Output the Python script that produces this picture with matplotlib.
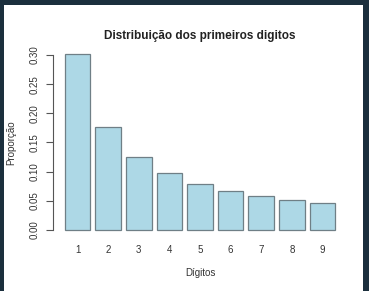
import matplotlib
matplotlib.use('Agg')
import matplotlib.pyplot as plt
from matplotlib.patches import Rectangle
import numpy as np

digitos = ['1', '2', '3', '4', '5', '6', '7', '8', '9']
proporcao = [0.301, 0.176, 0.125, 0.097, 0.079, 0.067, 0.058, 0.051, 0.046]
yticks = [0.00, 0.05, 0.10, 0.15, 0.20, 0.25, 0.30]

plt.rcParams['font.family'] = ['Liberation Sans', 'DejaVu Sans']

W, H = 369, 291
fig = plt.figure(figsize=(W / 100, H / 100), dpi=100)
fig.patch.set_facecolor('#1b2f3d')
# white panel inside the dark frame
fig.patches.append(Rectangle((4 / W, 0), (363 - 4) / W, (291 - 5) / H,
                             transform=fig.transFigure, facecolor='white',
                             edgecolor='none', zorder=-10))

# axes placed like R's barplot region (in pixels)
x0, x1, ytop, ybot = 54, 346, 47.4, 237
ax = fig.add_axes([x0 / W, 1 - ybot / H, (x1 - x0) / W, (ybot - ytop) / H])
ax.patch.set_alpha(0)

pos = 0.7 + 1.2 * np.arange(len(digitos))
ax.bar(pos, proporcao, width=1.0, color='#add8e6', edgecolor='#6f7f86', linewidth=0.9)
ax.set_xlim(-0.224, 11.224)
ax.set_ylim(-0.012, 0.313)

for s in ['top', 'right', 'bottom']:
    ax.spines[s].set_visible(False)
ax.spines['left'].set_bounds(0, 0.30)
ax.spines['left'].set_color('#555555')
ax.spines['left'].set_linewidth(0.8)
ax.spines['left'].set_position(('outward', 1))

ax.set_yticks(yticks)
ax.set_yticklabels(['%.2f' % v for v in yticks], rotation=90, va='center',
                   fontsize=7, color='#333333')
ax.tick_params(axis='y', length=5, width=0.8, color='#555555', pad=4)
ax.set_xticks(pos)
ax.set_xticklabels(digitos, fontsize=7, color='#333333')
ax.tick_params(axis='x', length=0, pad=6)

ax.set_xlabel('Dígitos', fontsize=7, color='#333333', labelpad=9)
ax.set_ylabel('Proporção', fontsize=7, color='#333333', labelpad=10)
ax.set_title('Distribuição dos primeiros digitos', fontsize=8.5,
             fontweight='bold', color='#222222', pad=6)

fig.savefig('out.png', dpi=100, facecolor=fig.get_facecolor())
